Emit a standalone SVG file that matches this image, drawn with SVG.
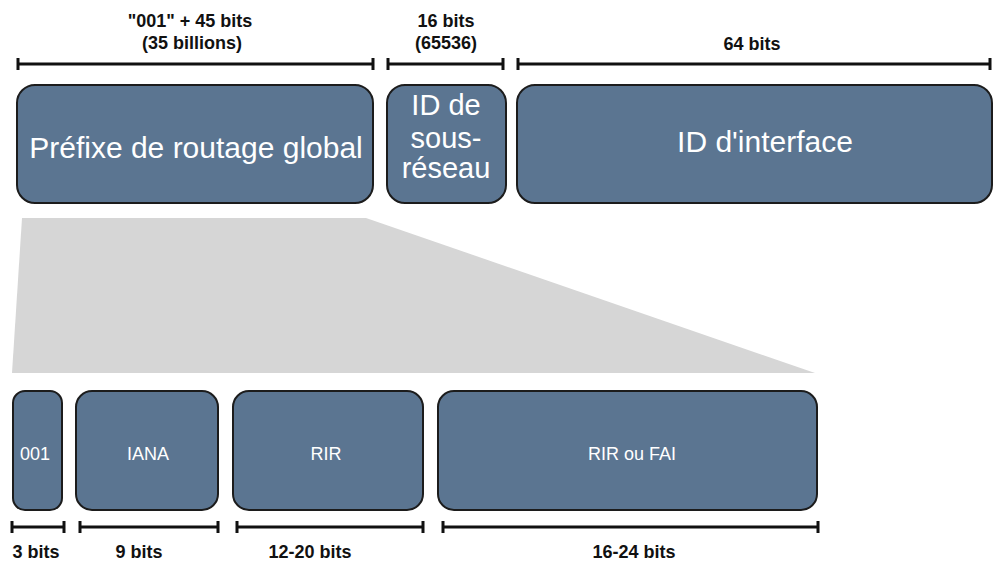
<svg xmlns="http://www.w3.org/2000/svg" width="1002" height="563" viewBox="0 0 1002 563">
<style>
.box{fill:#5b7591;stroke:#1c1c1c;stroke-width:2}
.big{font-family:"Liberation Sans",Arial,sans-serif;font-size:30px;fill:#ffffff;text-anchor:middle}
.mid{font-family:"Liberation Sans",Arial,sans-serif;font-size:29px;fill:#ffffff;text-anchor:middle}
.small{font-family:"Liberation Sans",Arial,sans-serif;font-size:18px;fill:#ffffff;text-anchor:middle}
.lbl{font-family:"Liberation Sans",Arial,sans-serif;font-size:18px;font-weight:bold;fill:#111;text-anchor:middle}
.br{stroke:#111;stroke-width:3;fill:none}
</style>
<rect width="1002" height="563" fill="#ffffff"/>
<polygon points="22,218 366,218 815,373 12,373" fill="#d6d6d6"/>
<g id="brackets">
<path class="br" d="M18,64H373M18,58V70M373,58V70"/>
<path class="br" d="M388,64H503M388,58V70M503,58V70"/>
<path class="br" d="M518,64H990M518,58V70M990,58V70"/>
<path class="br" d="M12,527H64M12,521V533M64,521V533"/>
<path class="br" d="M80,527H218M80,521V533M218,521V533"/>
<path class="br" d="M237,527H423M237,521V533M423,521V533"/>
<path class="br" d="M443,527H818M443,521V533M818,521V533"/>
</g>
<g id="labels">
<text class="lbl" x="190" y="27">"001" + 45 bits</text>
<text class="lbl" x="192" y="49">(35 billions)</text>
<text class="lbl" x="446" y="27">16 bits</text>
<text class="lbl" x="446" y="49">(65536)</text>
<text class="lbl" x="752" y="50">64 bits</text>
<text class="lbl" x="36" y="558">3 bits</text>
<text class="lbl" x="139" y="558">9 bits</text>
<text class="lbl" x="310" y="558">12-20 bits</text>
<text class="lbl" x="634" y="558">16-24 bits</text>
</g>
<g id="prefix"><rect class="box" x="17" y="85" width="356" height="118" rx="18"/><text class="big" x="196" y="158">Préfixe de routage global</text></g>
<g id="subnet"><rect class="box" x="387" y="85" width="119" height="118" rx="18"/><text class="mid" x="446" y="115">ID de</text><text class="mid" x="446" y="148">sous-</text><text class="mid" x="446" y="178">réseau</text></g>
<g id="iface"><rect class="box" x="517" y="85" width="475" height="118" rx="18"/><text class="big" x="765" y="152">ID d'interface</text></g>
<g id="n001"><rect class="box" x="13" y="391" width="49" height="119" rx="12"/><text class="small" x="35" y="460">001</text></g>
<g id="iana"><rect class="box" x="76" y="391" width="142" height="119" rx="16"/><text class="small" x="148" y="460">IANA</text></g>
<g id="rir"><rect class="box" x="233" y="391" width="190" height="119" rx="16"/><text class="small" x="326" y="460">RIR</text></g>
<g id="rirfai"><rect class="box" x="438" y="391" width="379" height="119" rx="16"/><text class="small" x="632" y="460">RIR ou FAI</text></g>
</svg>
